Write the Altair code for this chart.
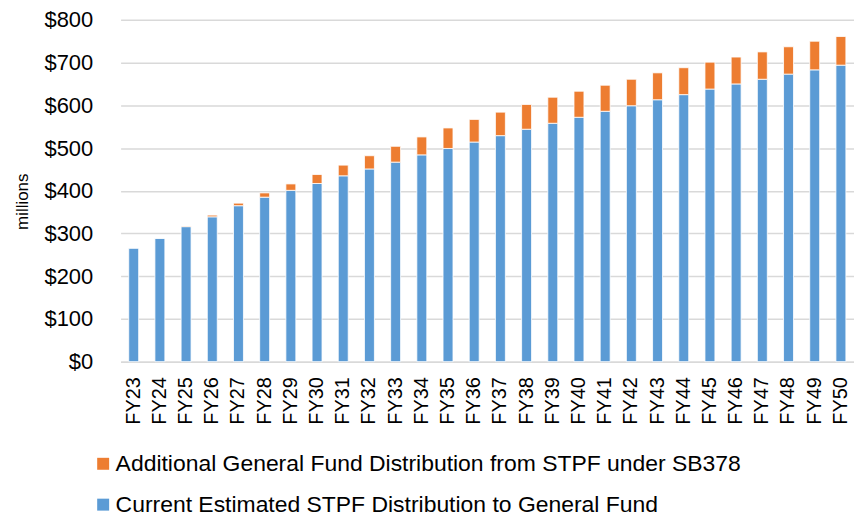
import altair as alt
import pandas as pd

years = ["FY23", "FY24", "FY25", "FY26", "FY27", "FY28", "FY29", "FY30", "FY31", "FY32",
         "FY33", "FY34", "FY35", "FY36", "FY37", "FY38", "FY39", "FY40", "FY41", "FY42",
         "FY43", "FY44", "FY45", "FY46", "FY47", "FY48", "FY49", "FY50"]
current = [266, 289, 316, 339, 365, 385, 401, 417, 435, 451,
           467, 484, 499, 514, 529, 544, 558, 572, 586, 599,
           613, 625, 638, 650, 661, 673, 683, 694]
additional = [0, 0, 1.5, 4, 6, 10, 15, 21, 25, 31,
              37, 42, 48, 53, 55, 58, 61, 61, 61, 62,
              63, 63, 63, 63, 64, 64, 67, 67]

s_add = "Additional General Fund Distribution from STPF under SB378"
s_cur = "Current Estimated STPF Distribution to General Fund"

rows = []
for y, c, a in zip(years, current, additional):
    rows.append({"year": y, "series": s_cur, "value": c, "ord": 0})
    rows.append({"year": y, "series": s_add, "value": a, "ord": 1})
df = pd.DataFrame(rows)

FONT = "Liberation Sans"

chart = alt.Chart(df).mark_bar(stroke="white", strokeWidth=0.8).encode(
    x=alt.X("year:N", sort=years, title=None,
            scale=alt.Scale(paddingInner=0.62, paddingOuter=0.31),
            axis=alt.Axis(labelAngle=-90, labelFontSize=20, labelFont=FONT, labelColor="#000000",
                          ticks=False, labelPadding=15, domainColor="#d9d9d9", domainWidth=1.5)),
    y=alt.Y("value:Q", stack="zero",
            scale=alt.Scale(domain=[0, 800], nice=False),
            axis=alt.Axis(values=[0, 100, 200, 300, 400, 500, 600, 700, 800], format="$,.0f",
                          title="millions", titleFont=FONT, titleFontSize=17, titleFontWeight="normal",
                          titleColor="#000000", titleX=-93, titleY=182, titleAngle=-90,
                          titleBaseline="alphabetic", titleAlign="center",
                          labelFontSize=22, labelFont=FONT, labelColor="#000000",
                          ticks=False, labelPadding=28, domain=False,
                          gridColor="#d9d9d9", gridWidth=1.5)),
    color=alt.Color("series:N",
                    scale=alt.Scale(domain=[s_add, s_cur], range=["#ED7D31", "#5B9BD5"]),
                    legend=alt.Legend(title=None, orient="none", legendX=-29, legendY=434,
                                      direction="vertical", symbolType="square", symbolSize=144,
                                      symbolStrokeWidth=0, labelFontSize=23, labelFont=FONT,
                                      labelColor="#000000", labelOffset=1, rowPadding=17,
                                      labelLimit=800)),
    order=alt.Order("ord:Q", sort="ascending"),
).properties(
    width=736, height=343,
    autosize=alt.AutoSizeParams(type="none"),
    padding={"left": 113, "top": 11, "right": 0, "bottom": 156},
).configure_view(stroke=None)

chart.save("out.html", embed_options={"renderer": "svg", "actions": False})
